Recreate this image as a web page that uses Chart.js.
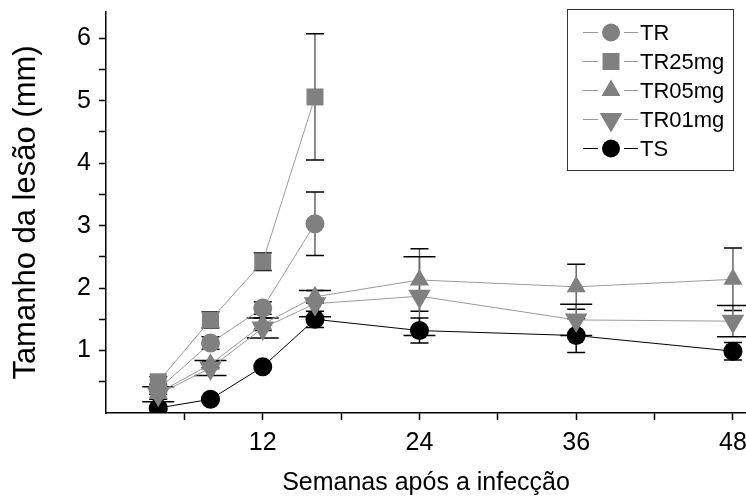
<!DOCTYPE html>
<html>
<head>
  <meta charset="UTF-8">
  <title>Tamanho da lesão</title>
  <script src="https://cdn.jsdelivr.net/npm/chart.js"></script>
  <style>
    body { margin: 0; background: #fff; }
  </style>
</head>
<body>
  <canvas id="chart" width="746" height="502"></canvas>

  <script>
    // semanas após a infecção
    const weeks = [4, 8, 12, 16, 24, 36, 48];

    const tr     = [0.38, 1.12, 1.68, 3.03, null, null, null];
    const trSd   = [0.08, 0.10, 0.10, 0.51, null, null, null];
    const tr25   = [0.50, 1.49, 2.42, 5.06, null, null, null];
    const tr25Sd = [0.08, 0.13, 0.14, 1.01, null, null, null];
    const tr05   = [0.32, 0.78, 1.42, 1.86, 2.13, 2.02, 2.14];
    const tr05Sd = [0.10, 0.05, 0.10, 0.10, 0.50, 0.36, 0.50];
    const tr01   = [0.30, 0.72, 1.36, 1.75, 1.87, 1.49, 1.47];
    const tr01Sd = [0.12, 0.12, 0.16, 0.21, 0.63, 0.25, 0.25];
    const ts     = [0.08, 0.22, 0.74, 1.50, 1.32, 1.24, 0.99];
    const tsSd   = [0.03, 0.02, 0.03, 0.13, 0.20, 0.27, 0.14];

    const xTicks = [6, 12, 18, 24, 30, 36, 42, 48];
    const xLabels = [12, 24, 36, 48];
    const yTicks = [0.5, 1, 1.5, 2, 2.5, 3, 3.5, 4, 4.5, 5, 5.5, 6];
    const yLabels = [1, 2, 3, 4, 5, 6];

    const GRAY = '#808080';
    const LINE_GRAY = '#9a9a9a';
    const FONT = '"Liberation Sans", Arial, sans-serif';

    function points(values) {
      return weeks.map((w, i) => ({ x: w, y: values[i] }));
    }

    function series(label, values, errors, opts) {
      return Object.assign({
        label: label,
        data: points(values),
        errors: errors,
        capWidth: 18,
        borderColor: LINE_GRAY,
        borderWidth: 1,
        backgroundColor: GRAY,
        pointBackgroundColor: GRAY,
        pointBorderColor: GRAY,
        pointBorderWidth: 0,
        pointRadius: 9.5,
        pointHoverRadius: 9.5,
        pointStyle: 'circle',
        pointRotation: 0,
        stemColor: '#666',
        capColor: '#000',
        tension: 0,
        spanGaps: false
      }, opts || {});
    }

    const errorBars = {
      id: 'errorBars',
      beforeDatasetsDraw(chart) {
        const ctx = chart.ctx;
        const yScale = chart.scales.y;
        ctx.save();
        chart.data.datasets.forEach((ds, di) => {
          const meta = chart.getDatasetMeta(di);
          meta.data.forEach((pt, i) => {
            const v = ds.data[i].y;
            const e = ds.errors[i];
            if (v == null || e == null) return;
            const x = pt.x;
            const yTop = yScale.getPixelForValue(v + e);
            const yBot = yScale.getPixelForValue(v - e);
            const half = ds.capWidth / 2;
            ctx.lineWidth = 1.5;
            ctx.strokeStyle = ds.stemColor;
            ctx.beginPath();
            ctx.moveTo(x, yTop);
            ctx.lineTo(x, yBot);
            ctx.stroke();
            ctx.strokeStyle = ds.capColor;
            ctx.beginPath();
            ctx.moveTo(x - half, yTop);
            ctx.lineTo(x + half, yTop);
            ctx.moveTo(x - half, yBot);
            ctx.lineTo(x + half, yBot);
            ctx.stroke();
          });
        });
        ctx.restore();
      }
    };

    const legendBox = {
      id: 'legendBox',
      afterDraw(chart) {
        const ctx = chart.ctx;
        ctx.save();
        ctx.strokeStyle = '#333';
        ctx.lineWidth = 1;
        ctx.strokeRect(567.5, 9.5, 166, 161);
        ctx.font = '22px ' + FONT;
        ctx.textBaseline = 'middle';
        ctx.textAlign = 'left';
        chart.data.datasets.forEach((ds, i) => {
          const y = 32.5 + i * 29;
          ctx.strokeStyle = ds.borderColor;
          ctx.lineWidth = 1;
          ctx.beginPath();
          ctx.moveTo(583, y);
          ctx.lineTo(598, y);
          ctx.moveTo(624, y);
          ctx.lineTo(638, y);
          ctx.stroke();
          ctx.fillStyle = ds.pointBackgroundColor;
          ctx.strokeStyle = ds.pointBorderColor;
          Chart.helpers.drawPoint(ctx, {
            pointStyle: ds.pointStyle,
            radius: ds.pointStyle === 'circle' ? 9 : ds.pointRadius,
            rotation: ds.pointRotation,
            borderWidth: 0
          }, 611, y);
          ctx.fillStyle = '#000';
          ctx.fillText(ds.label, 640, y + 1);
        });
        ctx.restore();
      }
    };

    const ctx = document.getElementById('chart').getContext('2d');
    new Chart(ctx, {
      type: 'line',
      data: {
        datasets: [
          series('TR', tr, trSd),
          series('TR25mg', tr25, tr25Sd, { pointStyle: 'rect', pointRadius: 12, pointHoverRadius: 12 }),
          series('TR05mg', tr05, tr05Sd, { pointStyle: 'triangle', pointRadius: 11, pointHoverRadius: 11 }),
          series('TR01mg', tr01, tr01Sd, { pointStyle: 'triangle', pointRotation: 180, pointRadius: 13, pointHoverRadius: 13, capWidth: 32 }),
          series('TS', ts, tsSd, {
            borderColor: '#000',
            backgroundColor: '#000',
            pointBackgroundColor: '#000',
            pointBorderColor: '#000',
            stemColor: '#000'
          })
        ]
      },
      options: {
        responsive: false,
        animation: false,
        devicePixelRatio: 1,
        layout: { autoPadding: false, padding: { top: 12, right: 0, left: 0, bottom: 0 } },
        plugins: {
          legend: { display: false },
          tooltip: { enabled: false }
        },
        scales: {
          x: {
            type: 'linear',
            min: 0,
            max: 49,
            afterBuildTicks: (scale) => { scale.ticks = xTicks.map(v => ({ value: v })); },
            afterFit: (scale) => {
              scale.height = 89;
              scale.paddingLeft = 0;
              scale.paddingRight = 0;
            },
            border: { display: true, color: '#000', width: 1.5 },
            grid: { drawOnChartArea: false, drawTicks: true, tickLength: 7, tickColor: '#000', tickWidth: 1.5 },
            ticks: {
              autoSkip: false,
              maxRotation: 0,
              padding: 8,
              color: '#000',
              font: { family: FONT, size: 25 },
              callback: (v) => xLabels.includes(v) ? String(v) : ''
            },
            title: {
              display: true,
              text: 'Semanas após a infecção',
              color: '#000',
              font: { family: FONT, size: 25 },
              padding: { top: 4, bottom: 4 }
            }
          },
          y: {
            min: 0,
            max: 6.42,
            afterBuildTicks: (scale) => { scale.ticks = yTicks.map(v => ({ value: v })); },
            afterFit: (scale) => {
              scale.width = 106;
              scale.paddingTop = 0;
              scale.paddingBottom = 0;
            },
            border: { display: true, color: '#000', width: 1.5 },
            grid: { drawOnChartArea: false, drawTicks: true, tickLength: 7, tickColor: '#000', tickWidth: 1.5 },
            ticks: {
              autoSkip: false,
              padding: 8,
              color: '#000',
              font: { family: FONT, size: 25 },
              callback: (v) => yLabels.includes(v) ? String(v) : ''
            },
            title: {
              display: true,
              text: 'Tamanho da lesão (mm)',
              color: '#000',
              font: { family: FONT, size: 31 },
              padding: { top: 8, bottom: 4 }
            }
          }
        }
      },
      plugins: [errorBars, legendBox]
    });
  </script>
</body>
</html>
